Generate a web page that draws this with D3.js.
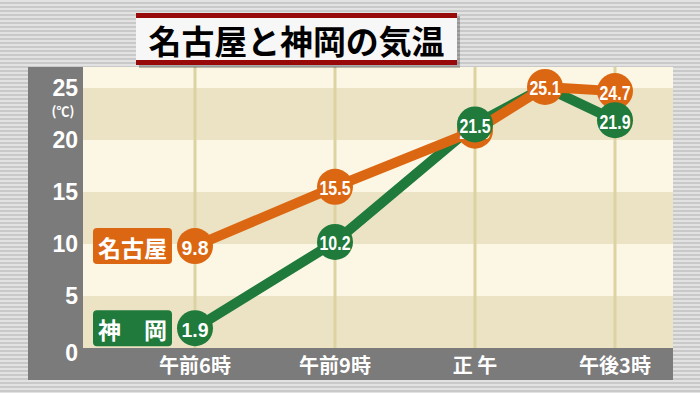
<!DOCTYPE html>
<html><head><meta charset="utf-8">
<script src="https://cdn.jsdelivr.net/npm/d3@7"></script>
<style>html,body{margin:0;padding:0;background:#d8d8d8;}svg{display:block;}</style>
</head><body>
<svg id="c" width="700" height="393"></svg>
<script>
const title = "名古屋と神岡の気温";
const hours = [6, 9, 12, 13.5, 15];
const nagoya = [9.8, 15.5, 20.9, 25.1, 24.7];
const kamioka = [1.9, 10.2, 21.5, 25.1, 21.9];
const seriesNames = ["名古屋", "神　岡"];
const xTickHours = [6, 9, 12, 15];
const xTickLabels = ["午前6時", "午前9時", "正 午", "午後3時"];
const yTicks = [0, 5, 10, 15, 20, 25];
const yUnit = "(℃)";

const ORANGE = "#dc6712", GREEN = "#1f7a3b";
const JP = "'Noto Sans CJK JP','Noto Sans',sans-serif";

const svg = d3.select("#c");
const defs = svg.append("defs");
const pat = defs.append("pattern").attr("id","stripes").attr("width",8).attr("height",4).attr("patternUnits","userSpaceOnUse");
pat.append("rect").attr("width",8).attr("height",4).attr("fill","#e2e2e2");
pat.append("rect").attr("y",2).attr("width",8).attr("height",2).attr("fill","#c9c9c9");
svg.append("rect").attr("width",700).attr("height",393).attr("fill","url(#stripes)");

// panel
const panel = {x0:28, x1:673, y0:67, y1:380};
const plot = {x0:83, x1:673, y0:67, y1:348};
svg.append("rect").attr("x",panel.x0).attr("y",panel.y0).attr("width",panel.x1-panel.x0).attr("height",panel.y1-panel.y0).attr("fill","#7b7b7b");

const x = d3.scaleLinear().domain([6,15]).range([195,615]);
const y = d3.scaleLinear().domain([0,25]).range([348,88]);

// bands
svg.append("rect").attr("x",plot.x0).attr("y",plot.y0).attr("width",plot.x1-plot.x0).attr("height",plot.y1-plot.y0).attr("fill","#fcf7e4");
const bands = d3.range(0, 25, 5).filter((d,i)=> i%2===0);
svg.selectAll(".band").data(bands).join("rect")
  .attr("x",plot.x0).attr("width",plot.x1-plot.x0)
  .attr("y",d=>y(d+5)).attr("height",d=>y(d)-y(d+5)).attr("fill","#ebe3c4");
// vertical grid
svg.selectAll(".vg").data(xTickHours).join("line")
  .attr("x1",d=>x(d)).attr("x2",d=>x(d)).attr("y1",plot.y0).attr("y2",plot.y1)
  .attr("stroke","#ddd2a2").attr("stroke-width",3);

// y labels
svg.selectAll(".yl").data(yTicks).join("text")
  .attr("x",78).attr("y",d=>y(d)+(d===0?5:0)).attr("text-anchor","end").attr("dominant-baseline","central")
  .attr("font-family","'Liberation Sans',Arial,sans-serif").attr("font-weight","bold").attr("font-size",23)
  .attr("fill","#fff").text(d=>d);
svg.append("text").attr("x",63).attr("y",y(25)+22).attr("text-anchor","middle").attr("dominant-baseline","central")
  .attr("font-family",JP).attr("font-weight","bold").attr("font-size",13).attr("fill","#fff").text(yUnit);

// x labels
svg.selectAll(".xl").data(xTickHours).join("text")
  .attr("x",d=>x(d)).attr("y",364).attr("text-anchor","middle").attr("dominant-baseline","central")
  .attr("font-family",JP).attr("font-weight","bold").attr("font-size",20).attr("fill","#fff")
  .text((d,i)=>xTickLabels[i]);

// title
const tb = {x0:136, x1:457, y0:13, y1:65};
svg.append("rect").attr("x",tb.x0+3).attr("y",tb.y0+3).attr("width",tb.x1-tb.x0).attr("height",tb.y1-tb.y0).attr("fill","#000").attr("opacity",0.25);
svg.append("rect").attr("x",tb.x0).attr("y",tb.y0).attr("width",tb.x1-tb.x0).attr("height",tb.y1-tb.y0).attr("fill","#f7f7f7");
svg.append("rect").attr("x",tb.x0).attr("y",tb.y0).attr("width",tb.x1-tb.x0).attr("height",5).attr("fill","#980a0a");
svg.append("rect").attr("x",tb.x0).attr("y",tb.y1-5).attr("width",tb.x1-tb.x0).attr("height",5).attr("fill","#980a0a");
svg.append("text").attr("x",(tb.x0+tb.x1)/2).attr("y",40).attr("text-anchor","middle").attr("dominant-baseline","central")
  .attr("font-family",JP).attr("font-weight","bold").attr("font-size",33).attr("fill","#000")
  .attr("textLength",296).attr("lengthAdjust","spacingAndGlyphs").text(title);

// lines
const line = d3.line().x((d,i)=>x(hours[i])).y(d=>y(d));
svg.append("path").datum(kamioka).attr("d",line).attr("fill","none").attr("stroke",GREEN).attr("stroke-width",10).attr("stroke-linejoin","round");
svg.append("path").datum(nagoya).attr("d",line).attr("fill","none").attr("stroke",ORANGE).attr("stroke-width",10).attr("stroke-linejoin","round");

function points(vals, color, skip){
  const g = svg.append("g");
  const data = vals.map((v,i)=>({v,i})).filter(d=>!skip(d));
  const pg = g.selectAll("g").data(data).join("g").attr("transform",d=>`translate(${x(hours[d.i])},${y(d.v)})`);
  pg.append("circle").attr("r",18).attr("fill",color);
  pg.append("text").attr("y",1).attr("text-anchor","middle").attr("dominant-baseline","central")
    .attr("font-family","'Liberation Sans',Arial,sans-serif").attr("font-weight","bold").attr("font-size",21).attr("fill","#fff")
    .attr("textLength",d=>String(d.v).length>3?31:27).attr("lengthAdjust","spacingAndGlyphs")
    .text(d=>d.v.toFixed(1));
}
points(nagoya, ORANGE, ()=>false);
points(kamioka, GREEN, d=>kamioka[d.i]===nagoya[d.i]);

// legend labels
const legend = [{name:seriesNames[0], color:ORANGE, v:nagoya[0]},{name:seriesNames[1], color:GREEN, v:kamioka[0]}];
const lg = svg.selectAll(".lg").data(legend).join("g").attr("transform",d=>`translate(93,${y(d.v)-18})`);
lg.append("rect").attr("width",79).attr("height",36).attr("rx",4).attr("fill",d=>d.color);
lg.append("text").attr("x",39.5).attr("y",19).attr("text-anchor","middle").attr("dominant-baseline","central")
  .attr("font-family",JP).attr("font-weight","bold").attr("font-size",23).attr("fill","#fff").text(d=>d.name);
</script>
</body></html>
